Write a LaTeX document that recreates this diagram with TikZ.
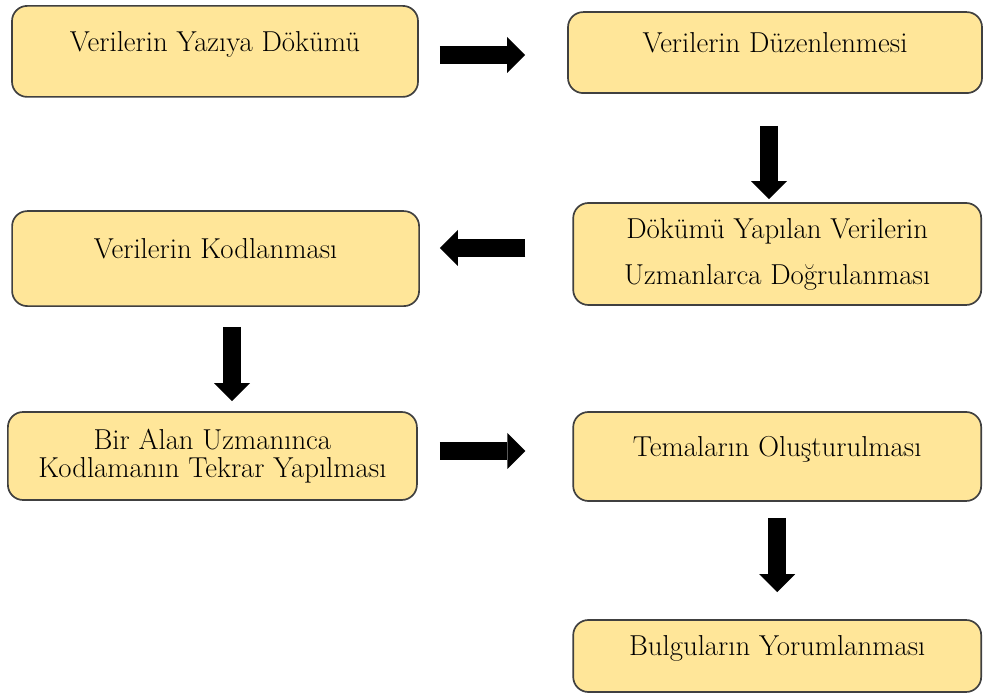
\documentclass[tikz,border=0pt]{standalone}
\usepackage{fontspec}
\usetikzlibrary{arrows.meta}

\definecolor{kutudolgu}{HTML}{FFE699}
\definecolor{kutucizgi}{HTML}{404040}

\tikzset{
    kutu/.style={draw=kutucizgi, fill=kutudolgu, line width=1.2pt, rounded corners=0.38cm,
        inner sep=0pt, align=center, font=\fontsize{20.5pt}{20pt}\selectfont},
    tekli/.style={text height=0.45cm, text depth=0.45cm},
    okblok/.style={line width=0.45cm, -{Triangle[length=0.45cm, width=0.9cm, line width=0pt]}}
}

\begin{document}
\begin{tikzpicture}
    \useasboundingbox (0,0) rectangle (24.575,17.325);

    % Kutular
    \node[kutu, tekli, minimum width=10.15cm, minimum height=2.275cm] (yazi) at (5.375,16.04) {Verilerin Yazıya Dökümü};
    \node[kutu, tekli, minimum width=10.35cm, minimum height=2.025cm] (duzen) at (19.375,16.01) {Verilerin Düzenlenmesi};
    \node[kutu, minimum width=10.2cm, minimum height=2.55cm] (dogrula) at (19.43,10.975) {Dökümü Yapılan Verilerin\\[12.7pt] Uzmanlarca Doğrulanması};
    \node[kutu, tekli, minimum width=10.175cm, minimum height=2.375cm] (kodla) at (5.39,10.86) {Verilerin Kodlanması};
    \node[kutu, minimum width=10.225cm, minimum height=2.2cm] (tekrar) at (5.31,5.925) {Bir Alan Uzmanınca\\ Kodlamanın Tekrar Yapılması};
    \node[kutu, tekli, minimum width=10.2cm, minimum height=2.225cm] (tema) at (19.43,5.9125) {Temaların Oluşturulması};
    \node[kutu, tekli, minimum width=10.2cm, minimum height=1.8cm] (bulgu) at (19.43,0.925) {Bulguların Yorumlanması};

    % Oklar
    \draw[okblok, shorten <=0.525cm, shorten >=1.05cm] ([yshift=-0.09cm]yazi.east) -- ([yshift=-0.09cm]yazi.east -| duzen.west);
    \draw[okblok, shorten <=0.8cm, shorten >=0.075cm] ([xshift=-0.15cm]duzen.south) -- ([xshift=-0.15cm]duzen.south |- dogrula.north);
    \draw[okblok, shorten <=1.175cm, shorten >=0.5cm] ([yshift=0.15cm]dogrula.west) -- ([yshift=0.15cm]dogrula.west -| kodla.east);
    \draw[okblok, shorten <=0.5cm, shorten >=0.25cm] ([xshift=0.41cm]kodla.south) -- ([xshift=0.41cm]kodla.south |- tekrar.north);
    \draw[okblok, shorten <=0.55cm, shorten >=1.175cm] ([yshift=0.125cm]tekrar.east) -- ([yshift=0.125cm]tekrar.east -| tema.west);
    \draw[okblok, shorten <=0.4cm, shorten >=0.675cm] (tema.south) -- (tema.south |- bulgu.north);
\end{tikzpicture}
\end{document}
